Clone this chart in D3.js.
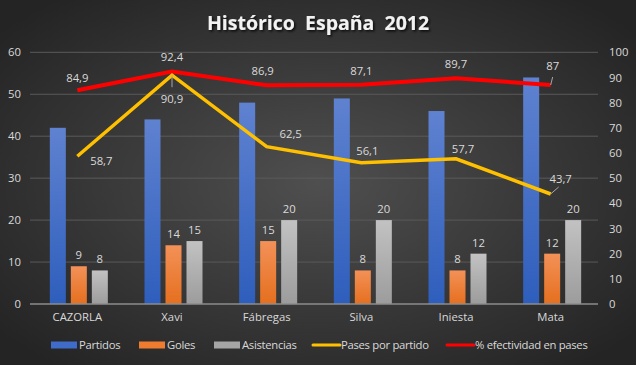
<!DOCTYPE html>
<html>
<head>
<meta charset="utf-8">
<script src="https://cdn.jsdelivr.net/npm/d3@7"></script>
<style>
  body { margin: 0; background: #333; }
  svg text { font-family: "Open Sans", sans-serif; }
</style>
</head>
<body>
<div class="chart"></div>
<script>
var jugadores = ["CAZORLA", "Xavi", "Fábregas", "Silva", "Iniesta", "Mata"];
var partidos = [42, 44, 48, 49, 46, 54];
var goles = [9, 14, 15, 8, 8, 12];
var asistencias = [8, 15, 20, 20, 12, 20];
var pasesPartido = [58.7, 90.9, 62.5, 56.1, 57.7, 43.7];
var efectividad = [84.9, 92.4, 86.9, 87.1, 89.7, 87];
var leftTicks = [0, 10, 20, 30, 40, 50, 60];
var rightTicks = [0, 10, 20, 30, 40, 50, 60, 70, 80, 90, 100];

// label placement for line labels (dx, dy from the point)
var pasesLabelPos = [[24, 5], [0, 24], [24, -13], [6, -12], [7, -10], [10, -15]];
var efecLabelPos = [[0, -12], [0, -14], [-4, -14], [0, -14], [0, -14], [2, -19]];

var W = 636, H = 365;
var margin = {top: 52.3, right: 38, bottom: 61, left: 30};
var width = W - margin.left - margin.right,
    height = H - margin.top - margin.bottom;
var fs = "11.3px";

var svg = d3.select(".chart").append("svg")
    .attr("width", W)
    .attr("height", H);

var defs = svg.append("defs");
var bg = defs.append("radialGradient").attr("id", "bg")
    .attr("cx", "50%").attr("cy", "50%").attr("r", "65%");
bg.append("stop").attr("offset", "0%").attr("stop-color", "#4f4f4f");
bg.append("stop").attr("offset", "100%").attr("stop-color", "#242424");

function vgrad(id, top, bottom) {
    var g = defs.append("linearGradient").attr("id", id)
        .attr("x1", 0).attr("y1", 0).attr("x2", 0).attr("y2", 1);
    g.append("stop").attr("offset", "0%").attr("stop-color", top);
    g.append("stop").attr("offset", "100%").attr("stop-color", bottom);
}
vgrad("gBlue", "#5f82d0", "#2e5ebc");
vgrad("gOrange", "#f39158", "#e56f1e");
vgrad("gGray", "#c2c2c2", "#9c9c9c");

var shadow = defs.append("filter").attr("id", "shadow");
shadow.append("feDropShadow").attr("dx", 1.5).attr("dy", 1.5)
    .attr("stdDeviation", 1).attr("flood-color", "#000").attr("flood-opacity", 0.8);

svg.append("rect").attr("width", W).attr("height", H).attr("fill", "url(#bg)");

svg.append("text")
    .attr("x", 318).attr("y", 30)
    .attr("text-anchor", "middle")
    .attr("fill", "#f2f2f2")
    .attr("filter", "url(#shadow)")
    .style("font-size", "19.5px")
    .style("font-weight", "bold")
    .style("white-space", "pre")
    .text("Histórico  España  2012");

var g = svg.append("g")
    .attr("transform", "translate(" + margin.left + "," + margin.top + ")");

var x = d3.scaleBand().domain(jugadores).range([0, width]);
var series = ["partidos", "goles", "asistencias"];
var xs = d3.scaleBand().domain(series).range([-29, 29]).paddingInner(5 / 21);
var yL = d3.scaleLinear().domain([0, 60]).range([height, 0]);
var yR = d3.scaleLinear().domain([0, 100]).range([height, 0]);

// gridlines
g.selectAll(".grid").data(leftTicks.slice(1)).enter().append("line")
    .attr("x1", 0).attr("x2", width)
    .attr("y1", function(d) { return yL(d); })
    .attr("y2", function(d) { return yL(d); })
    .attr("stroke", "#5a5a5a").attr("stroke-width", 1);

var axisL = d3.axisLeft(yL).tickValues(leftTicks).tickSize(0).tickPadding(9);
g.append("g").call(axisL).call(function(s) {
    s.select(".domain").remove();
    s.selectAll("text").attr("fill", "#d9d9d9").style("font-size", fs);
});

var axisR = d3.axisRight(yR).tickValues(rightTicks).tickSize(0).tickPadding(11);
g.append("g").attr("transform", "translate(" + width + ",0)").call(axisR).call(function(s) {
    s.select(".domain").remove();
    s.selectAll("text").attr("fill", "#d9d9d9").style("font-size", fs);
});

var axisB = d3.axisBottom(x).tickSize(0).tickPadding(9);
g.append("g").attr("transform", "translate(0," + height + ")").call(axisB).call(function(s) {
    s.select(".domain").remove();
    s.selectAll("text").attr("fill", "#d9d9d9").style("font-size", fs);
});

var barData = [
    {key: "partidos", values: partidos, fill: "url(#gBlue)", label: false},
    {key: "goles", values: goles, fill: "url(#gOrange)", label: true},
    {key: "asistencias", values: asistencias, fill: "url(#gGray)", label: true}
];

barData.forEach(function(s) {
    var cx = function(d, i) { return x(jugadores[i]) + x.bandwidth() / 2 + 1.5 + xs(s.key); };
    g.selectAll(".bar-" + s.key).data(s.values).enter().append("rect")
        .attr("x", cx)
        .attr("y", function(d) { return yL(d); })
        .attr("width", xs.bandwidth())
        .attr("height", function(d) { return height - yL(d); })
        .attr("fill", s.fill);
    if (s.label) {
        g.selectAll(".lbl-" + s.key).data(s.values).enter().append("text")
            .attr("x", function(d, i) { return cx(d, i) + xs.bandwidth() / 2; })
            .attr("y", function(d) { return yL(d) - 7; })
            .attr("text-anchor", "middle")
            .attr("fill", "#d9d9d9")
            .style("font-size", fs)
            .text(function(d) { return d; });
    }
});

// baseline
g.append("line").attr("x1", 0).attr("x2", width)
    .attr("y1", height).attr("y2", height)
    .attr("stroke", "#8c8c8c").attr("stroke-width", 1.5);

var px = function(d, i) { return x(jugadores[i]) + x.bandwidth() / 2; };
var line = d3.line().x(px).y(function(d) { return yR(d); });

g.append("path").datum(efectividad)
    .attr("d", line).attr("fill", "none")
    .attr("stroke", "#ff0000").attr("stroke-width", 4);

g.append("path").datum(pasesPartido)
    .attr("d", line).attr("fill", "none")
    .attr("stroke", "#ffc000").attr("stroke-width", 3.5);

var fmt = function(d) { return String(d).replace(".", ","); };

function lineLabels(vals, pos) {
    vals.forEach(function(d, i) {
        var x0 = px(d, i), y0 = yR(d);
        g.append("text")
            .attr("x", x0 + pos[i][0])
            .attr("y", y0 + pos[i][1])
            .attr("dy", "0.35em")
            .attr("text-anchor", "middle")
            .attr("fill", "#d9d9d9")
            .style("font-size", fs)
            .text(fmt(d));
    });
}
lineLabels(efectividad, efecLabelPos);
lineLabels(pasesPartido, pasesLabelPos);

// leader lines
var leaders = [
    {i: 1, vals: pasesPartido, dx: 0, dy: 12},
    {i: 5, vals: pasesPartido, dx: 8, dy: -7},
    {i: 5, vals: efectividad, dx: 2, dy: -8}
];
leaders.forEach(function(l) {
    var x0 = px(0, l.i), y0 = yR(l.vals[l.i]);
    g.append("line")
        .attr("x1", x0).attr("y1", y0)
        .attr("x2", x0 + l.dx).attr("y2", y0 + l.dy)
        .attr("stroke", "#a6a6a6").attr("stroke-width", 1);
});

// legend
var legend = [
    {name: "Partidos", type: "rect", color: "#3f6cc8", x: 51},
    {name: "Goles", type: "rect", color: "#ee7b30", x: 139},
    {name: "Asistencias", type: "rect", color: "#a5a5a5", x: 214},
    {name: "Pases por partido", type: "line", color: "#ffc000", x: 313},
    {name: "% efectividad en pases", type: "line", color: "#ff0000", x: 447}
];
var lg = svg.append("g").attr("transform", "translate(0,345)");
legend.forEach(function(d) {
    if (d.type === "rect") {
        lg.append("rect").attr("x", d.x).attr("y", -3.5).attr("width", 26).attr("height", 7)
            .attr("fill", d.color);
    } else {
        lg.append("line").attr("x1", d.x).attr("x2", d.x + 27).attr("y1", 0).attr("y2", 0)
            .attr("stroke", d.color).attr("stroke-width", 3).attr("stroke-linecap", "round");
    }
    lg.append("text").attr("x", d.x + 28).attr("y", 0).attr("dy", "0.35em")
        .attr("fill", "#d9d9d9").style("font-size", fs)
        .style("letter-spacing", "-0.3px").text(d.name);
});
</script>
</body>
</html>
